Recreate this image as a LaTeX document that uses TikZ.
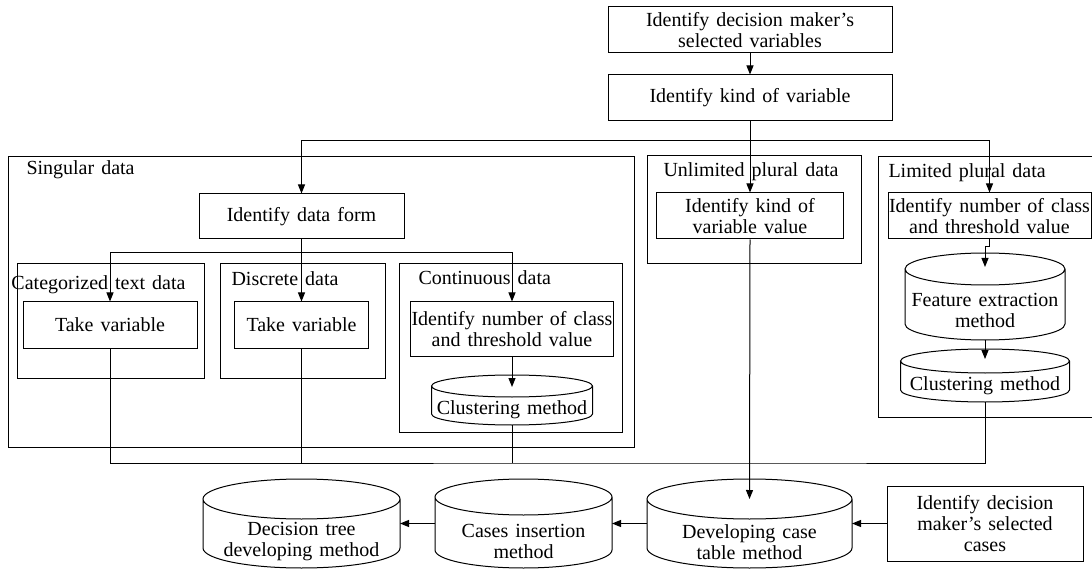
\documentclass[tikz,border=0pt]{standalone}
\usepackage{fontspec}
\setmainfont{Liberation Serif}[WordSpace=1.4]
\usetikzlibrary{arrows.meta}
% drum outline round a node: name, x radius, y radius
\newcommand\dbdrum[3]{%
  \draw ([yshift=-#3pt]#1.north west) -- ([yshift=#3pt]#1.south west)
    arc[start angle=180, end angle=360, x radius=#2pt, y radius=#3pt]
    -- ([yshift=-#3pt]#1.north east)
    arc[start angle=0, end angle=180, x radius=#2pt, y radius=#3pt]
    arc[start angle=180, end angle=360, x radius=#2pt, y radius=#3pt];}
\begin{document}
\begin{tikzpicture}[x=1pt, y=-1pt, font=\fontsize{20}{21}\selectfont, line width=1pt,
  >={Triangle[length=9pt,width=7pt]},
  blk/.style={draw, align=center, inner sep=1pt},
  grp/.style={draw, inner sep=0pt},
  db/.style={inner sep=0pt, outer sep=0pt},
  dbt/.style={align=center, inner sep=0pt},
  lbl/.style={anchor=west, inner sep=0pt}]
  \useasboundingbox (0,0) rectangle (1092,569);
  % top
  \node[blk, minimum width=284pt, minimum height=46pt] (sel) at (750,30) {Identify decision maker's\\selected variables};
  \node[blk, minimum width=284pt, minimum height=46pt] (kv) at (750,98) {Identify kind of variable};
  % singular data
  \node[grp, minimum width=626pt, minimum height=290pt] (sing) at (321,302) {};
  \node[lbl] (singl) at (26,170) {Singular data};
  \node[blk, minimum width=205pt, minimum height=45pt] (df) at (301.5,216.5) {Identify data form};
  \node[grp, minimum width=187pt, minimum height=114pt] (cat) at (110.5,321) {};
  \node[lbl] (catl) at (11,285) {Categorized text data};
  \node[grp, minimum width=165pt, minimum height=114pt] (dis) at (302.5,321) {};
  \node[lbl] (disl) at (231,279) {Discrete data};
  \node[grp, minimum width=223pt, minimum height=168pt] (con) at (510.5,348) {};
  \node[lbl] (conl) at (418,278) {Continuous data};
  \node[blk, minimum width=174pt, minimum height=46pt] (tv1) at (110,325) {Take variable};
  \node[blk, minimum width=134pt, minimum height=46pt] (tv2) at (301.5,325) {Take variable};
  \node[blk, minimum width=196pt, minimum height=54pt] (nc1) at (512,329) {Identify number of class\\and threshold value};
  \node[db, minimum width=161pt, minimum height=50pt] (cl1) at (512,400) {};
  \node[dbt] (cl1t) at ([yshift=-10pt]cl1.center) {Clustering method};
  % unlimited plural data
  \node[grp, minimum width=214pt, minimum height=108pt] (unl) at (754,210) {};
  \node[lbl] (unll) at (663,172) {Unlimited plural data};
  \node[blk, minimum width=187pt, minimum height=46pt] (kvv) at (750,216) {Identify kind of\\variable value};
  % limited plural data
  \node[grp, minimum width=216pt, minimum height=260pt] (lim) at (986,287) {};
  \node[lbl] (liml) at (888,173) {Limited plural data};
  \node[blk, minimum width=203pt, minimum height=46pt] (nc2) at (989.5,216) {Identify number of class\\and threshold value};
  \node[db, minimum width=160pt, minimum height=87pt] (fe) at (985,296.5) {};
  \node[dbt] (fet) at ([yshift=-14pt]fe.center) {Feature extraction\\method};
  \node[db, minimum width=169pt, minimum height=53pt] (cl2) at (985,375.5) {};
  \node[dbt] (cl2t) at ([yshift=-10pt]cl2.center) {Clustering method};
  % bottom row
  \node[db, minimum width=197pt, minimum height=89pt] (dt) at (301.5,523.5) {};
  \node[dbt] (dtt) at ([yshift=-18pt]dt.center) {Decision tree\\developing method};
  \node[db, minimum width=177pt, minimum height=89pt] (ci) at (523.5,523.5) {};
  \node[dbt] (cit) at ([yshift=-18pt]ci.center) {Cases insertion\\method};
  \node[db, minimum width=205pt, minimum height=89pt] (dc) at (749.5,523.5) {};
  \node[dbt] (dct) at ([yshift=-19pt]dc.center) {Developing case\\table method};
  \node[blk, minimum width=196pt, minimum height=75pt] (sc) at (985,523.5) {Identify decision\\maker's selected\\cases};
  % drums
  \dbdrum{cl1}{80.5}{11}
  \dbdrum{fe}{80}{16}
  \dbdrum{cl2}{84.5}{12}
  \dbdrum{dt}{98.5}{20}
  \dbdrum{ci}{88.5}{18}
  \dbdrum{dc}{102.5}{20}
  % branches
  \coordinate (br) at (750,141);
  \coordinate (br2) at (301.5,253);
  \coordinate (jn) at (750,463);
  \draw[->] (sel) -- (kv);
  \draw[->] (kv) -- (kvv);
  \draw[->] (br) -| (df.north);
  \draw[->] (br) -| (nc2.north);
  \draw[->] (df) -- (tv2);
  \draw[->] (br2) -| (tv1.north);
  \draw[->] (br2) -| (nc1.north);
  \draw[->] (nc1) -- ([yshift=-12pt]cl1.north);
  \draw[->] (nc2.south) -- ++(0,7) -| ([yshift=-14pt]fe.north);
  \draw[->] (fe.south) -- ([yshift=-10pt]cl2.north);
  % back to case table
  \draw (tv1.south) |- (jn) -| (cl2.south);
  \draw (tv2.south) -- (tv2.south |- jn);
  \draw (cl1.south) -- (cl1.south |- jn);
  \draw[->] (kvv.south) -- ([yshift=-20pt]dc.north);
  \draw[->] (sc) -- (dc);
  \draw[->] (dc) -- (ci);
  \draw[->] (ci) -- (dt);
\end{tikzpicture}
\end{document}
